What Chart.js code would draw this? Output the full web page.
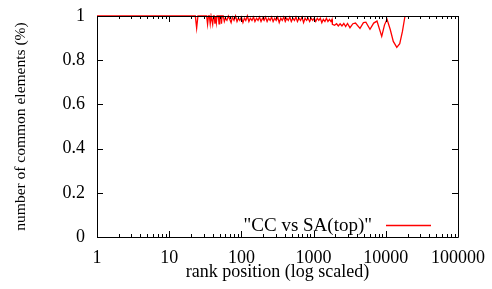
<!DOCTYPE html>
<html>
<head>
<meta charset="utf-8">
<script src="https://cdn.jsdelivr.net/npm/chart.js@4/dist/chart.umd.min.js"></script>
<style>
html,body{margin:0;padding:0;background:#fff;}
canvas{display:block;}
</style>
</head>
<body>
<canvas id="c" width="492" height="289"></canvas>
<script>
// ---- data ----
const ranks = [1,23,24,25,33,34,35,36,37,38,39,40,41,42,43,44,45,46,48,49,50,52,53,54,56,58,60,63,66,69,72,75,79,83,87,91,95,100,105,110,115,121,127,133,140,147,154,162,170,178,187,196,206,216,227,238,250,262,275,289,303,318,334,351,368,386,405,425,446,468,491,516,542,569,597,627,658,691,726,762,800,840,882,926,972,1020,1070,1125,1180,1240,1300,1365,1435,1505,1580,1660,1740,1800,1820,1950,2080,2200,2330,2470,2620,2780,2950,3190,3500,3800,4390,4900,5300,6040,6800,7550,8780,9600,10400,11500,12700,14200,15600,17000,18450];
const common = [1,1,0.945,1,1,0.962,1,1,0.965,1,1,0.962,1,1,0.965,1,0.97,1,1,0.965,1,1,0.965,1,1,0.975,0.99,0.98,1,0.985,0.97,0.995,0.98,1,0.975,0.99,0.98,0.995,0.97,0.99,0.98,1,0.975,0.99,0.98,0.995,0.975,0.99,0.98,0.995,0.975,0.99,0.98,0.995,0.975,0.99,0.98,0.995,0.975,0.99,0.98,0.995,0.97,0.99,0.98,0.995,0.975,0.99,0.98,0.995,0.975,0.99,0.98,0.995,0.975,0.99,0.98,0.995,0.97,0.99,0.98,0.99,0.975,0.99,0.98,0.99,0.975,0.99,0.98,0.99,0.97,0.985,0.975,0.99,0.975,0.985,0.975,0.985,0.962,0.958,0.965,0.955,0.965,0.955,0.966,0.952,0.966,0.947,0.965,0.968,0.944,0.97,0.972,0.94,0.968,0.977,0.908,0.96,0.985,0.94,0.885,0.858,0.875,0.93,1];
const xTickValues = [1,10,100,1000,10000,100000];
const yTickValues = [0,0.2,0.4,0.6,0.8,1];
const seriesLabel = '"CC vs SA(top)"';
const xTitle = 'rank position (log scaled)';
const yTitle = 'number of common elements (%)';
const FONT = 'Liberation Serif';

const framePlugin = {
  id: 'frame',
  afterDraw(chart) {
    const ctx = chart.ctx;
    const a = chart.chartArea;
    const xs = chart.scales.x, ys = chart.scales.y;
    ctx.save();
    ctx.strokeStyle = '#000';
    ctx.lineWidth = 1;
    ctx.beginPath();
    ctx.rect(Math.round(a.left)+0.5, Math.round(a.top)+0.5, Math.round(a.right-a.left), Math.round(a.bottom-a.top));
    ctx.stroke();
    ctx.beginPath();
    for (let d = 0; d < xTickValues.length; d++) {
      const base = xTickValues[d];
      for (let m = 1; m <= 9; m++) {
        const v = base * m;
        if (v > xTickValues[xTickValues.length-1]) break;
        const px = Math.round(xs.getPixelForValue(v)) + 0.5;
        const len = m === 1 ? 6 : 3;
        ctx.moveTo(px, a.bottom); ctx.lineTo(px, a.bottom - len);
        ctx.moveTo(px, a.top); ctx.lineTo(px, a.top + len);
      }
    }
    for (const v of yTickValues) {
      const py = Math.round(ys.getPixelForValue(v)) + 0.5;
      ctx.moveTo(a.left, py); ctx.lineTo(a.left + 6, py);
      ctx.moveTo(a.right, py); ctx.lineTo(a.right - 6, py);
    }
    ctx.stroke();
    // key
    const ly = Math.round(a.bottom - 12);
    ctx.font = '19px "Liberation Serif"';
    ctx.fillStyle = '#000';
    ctx.textAlign = 'right';
    ctx.textBaseline = 'alphabetic';
    ctx.fillText(seriesLabel, a.right - 86, ly + 6);
    ctx.strokeStyle = '#ff0000';
    ctx.lineWidth = 1.3;
    ctx.beginPath();
    ctx.moveTo(a.right - 72, ly + 0.5);
    ctx.lineTo(a.right - 27, ly + 0.5);
    ctx.stroke();
    ctx.restore();
  }
};

Chart.defaults.font.family = FONT;
new Chart(document.getElementById('c'), {
  type: 'line',
  data: {
    datasets: [{
      label: seriesLabel,
      data: ranks.map((r, i) => ({ x: r, y: common[i] })),
      borderColor: '#ff0000',
      borderWidth: 1.3,
      pointRadius: 0,
      tension: 0,
      fill: false,
      clip: 3
    }]
  },
  options: {
    responsive: false,
    animation: false,
    devicePixelRatio: 1,
    layout: { padding: { left: 0, right: 34, top: 16, bottom: 0 } },
    plugins: { legend: { display: false }, tooltip: { enabled: false } },
    scales: {
      x: {
        type: 'logarithmic',
        min: 1, max: 100000,
        afterBuildTicks: s => { s.ticks = xTickValues.map(v => ({ value: v })); },
        afterFit: s => { s.height = 52; s.paddingLeft = 0; s.paddingRight = 0; },
        grid: { display: false, drawTicks: false },
        border: { display: false },
        ticks: { callback: v => String(v), font: { family: FONT, size: 18 }, color: '#000', maxRotation: 0, autoSkip: false, padding: 10 },
        title: { display: true, text: xTitle, font: { family: FONT, size: 18 }, color: '#000', padding: { top: 0, bottom: 6 } }
      },
      y: {
        min: 0, max: 1,
        afterBuildTicks: s => { s.ticks = yTickValues.map(v => ({ value: v })); },
        afterFit: s => { s.width = 97; s.paddingTop = 0; s.paddingBottom = 0; },
        grid: { display: false, drawTicks: false },
        border: { display: false },
        ticks: { callback: v => String(v), font: { family: FONT, size: 18 }, color: '#000', padding: 12 },
        title: { display: true, text: yTitle, font: { family: FONT, size: 15.5 }, color: '#000', padding: { top: 12, bottom: 0 } }
      }
    }
  },
  plugins: [framePlugin]
});
</script>
</body>
</html>
